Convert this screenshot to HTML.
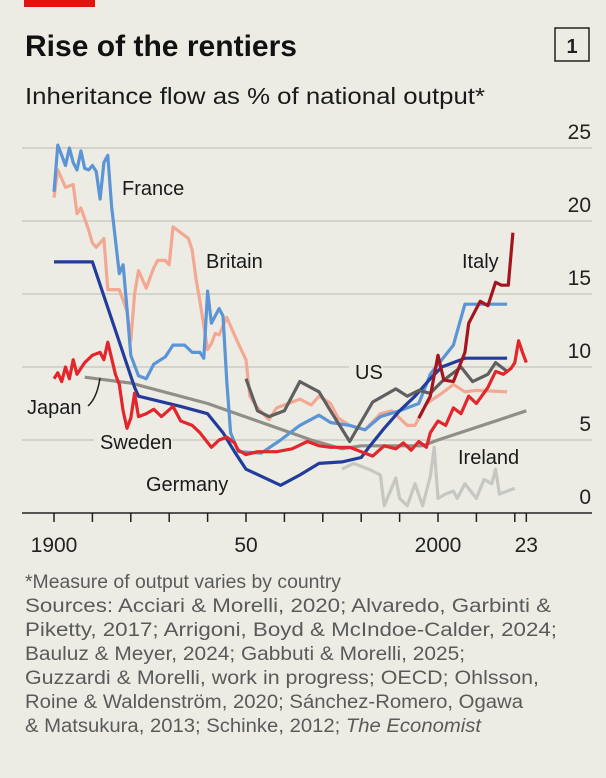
<!DOCTYPE html>
<html><head><meta charset="utf-8"><style>
html,body{margin:0;padding:0;background:#edece4;}
svg{display:block;font-family:"Liberation Sans",sans-serif;}
</style></head><body>
<svg id="chart" width="606" height="778" viewBox="0 0 606 778">
<rect width="606" height="778" fill="#edece4"/>
<rect x="24" y="0" width="71" height="7" fill="#e3120b"/>
<text x="25" y="56" font-size="30" font-weight="bold" fill="#111" textLength="272" lengthAdjust="spacingAndGlyphs">Rise of the rentiers</text>
<rect x="555" y="28" width="34" height="33" fill="none" stroke="#222" stroke-width="1.5"/>
<text x="572" y="53" font-size="20" font-weight="bold" text-anchor="middle" fill="#222">1</text>
<text x="25" y="104" font-size="23" fill="#1a1a1a" textLength="460" lengthAdjust="spacingAndGlyphs">Inheritance flow as % of national output*</text>
<g id="grid"></g>
<g id="series"></g>
<g id="labels"></g>
<g font-size="19" fill="#5a5a5a">
<text x="25" y="588" textLength="316" lengthAdjust="spacingAndGlyphs">*Measure of output varies by country</text>
<text x="25" y="612" textLength="526" lengthAdjust="spacingAndGlyphs">Sources: Acciari &amp; Morelli, 2020; Alvaredo, Garbinti &amp;</text>
<text x="25" y="636" textLength="532" lengthAdjust="spacingAndGlyphs">Piketty, 2017; Arrigoni, Boyd &amp; McIndoe-Calder, 2024;</text>
<text x="25" y="660" textLength="440" lengthAdjust="spacingAndGlyphs">Bauluz &amp; Meyer, 2024; Gabbuti &amp; Morelli, 2025;</text>
<text x="25" y="684" textLength="514" lengthAdjust="spacingAndGlyphs">Guzzardi &amp; Morelli, work in progress; OECD; Ohlsson,</text>
<text x="25" y="708" textLength="498" lengthAdjust="spacingAndGlyphs">Roine &amp; Waldenström, 2020; Sánchez-Romero, Ogawa</text>
<text x="25" y="732" textLength="456" lengthAdjust="spacingAndGlyphs">&amp; Matsukura, 2013; Schinke, 2012; <tspan font-style="italic">The Economist</tspan></text>
</g>
</svg>
<script>
const yTicks=[0,5,10,15,20,25];
const xTickYears=[1900,1910,1920,1930,1940,1950,1960,1970,1980,1990,2000,2010,2020,2023];
const xLabelYears=[1900,1950,2000,2023];
const xLabelText=["1900","50","2000","23"];
const franceYears=[1900,1901,1902,1903,1904,1905,1906,1907,1908,1909,1910,1911,1912,1913,1914,1915,1917,1918,1919,1920,1922,1924,1926,1929,1931,1934,1936,1938,1939,1940,1941,1943,1944,1945,1946,1948,1954,1959,1964,1969,1972,1977,1981,1985,1990,1995,1998,2001,2004,2007,2018];
const franceVals=[22,25.2,24.5,23.8,25,24,23.5,24.8,23.6,23.5,23.8,23.4,21.5,24,24.5,21,16.4,17,14,10.8,9.4,9.2,10.2,10.7,11.5,11.5,11,11,10.6,15.2,13,14,13.5,9,5.5,4.2,4.1,5,6,6.7,6.2,6,5.7,6.6,7,7.5,9.5,10.5,11.5,14.3,14.3];
const britainYears=[1900,1901,1903,1905,1906,1907,1909,1910,1911,1913,1914,1917,1919,1920,1921,1922,1924,1926,1927,1929,1930,1931,1933,1935,1936,1937,1938,1940,1941,1942,1943,1945,1946,1948,1950,1951,1953,1956,1958,1962,1964,1967,1969,1972,1974,1977,1981,1985,1988,1992,1994,1997,2001,2004,2007,2010,2018];
const britainVals=[21.6,23.5,22.3,22.5,20.5,20.9,19.4,18.5,18.2,18.8,15.3,15.3,13.8,11.8,15,16.6,15.4,16.8,17.3,17.3,17,19.6,19.2,18.8,18,16,14.5,11.2,11.6,12.3,12.2,13.4,12.8,11.6,10.5,8,7.2,6.4,7.2,7.6,7.8,7.4,8,7.5,6.5,6,5.7,6.8,7,6,6,7.5,8.2,8.8,8.3,8.4,8.3];
const germanyYears=[1900,1910,1921,1922,1933,1940,1944,1947,1950,1959,1964,1969,1975,1980,1982,1986,1990,1994,1998,2001,2007,2018];
const germanyVals=[17.2,17.2,8.6,8,7.3,6.8,5.5,4.2,3,1.9,2.6,3.4,3.5,3.8,4.5,5.8,7,8,9.2,10,10.6,10.6];
const swedenYears=[1900,1901,1902,1903,1904,1905,1906,1908,1910,1912,1913,1914,1916,1917,1918,1919,1920,1921,1922,1924,1926,1928,1931,1933,1936,1938,1941,1943,1945,1947,1948,1950,1953,1958,1962,1966,1969,1972,1977,1980,1983,1986,1989,1991,1993,1995,1997,1998,2000,2002,2004,2006,2008,2010,2013,2015,2017,2019,2020,2021,2022,2023];
const swedenVals=[9.2,9.6,9.0,10,9.2,10.5,9.5,10.3,10.8,11,10.5,11.7,9.5,8.8,7,5.8,6.5,8.2,6.6,6.8,7.1,6.6,7.3,6.3,6,5.5,4.5,5,5.2,4.8,4.3,4,4.2,4.2,4.4,4.9,4.6,4.5,4.5,4.2,3.9,4.6,4.4,4.8,4.3,4.9,4.5,5.5,6.3,6,7.2,6.8,8,7.5,8.6,9.7,9.5,9.9,10.3,11.8,11,10.3];
const italyYears=[1995,1998,2000,2001.5,2004,2007,2008,2011,2013,2015,2016.5,2018.3,2019.5];
const italyVals=[6.5,8,10.8,9.1,9,11,13,14.5,14.2,15.8,15.6,15.6,19.2];
const usYears=[1950,1953,1956,1960,1964,1969,1972,1977,1983,1989,1992,1995,1998,2001,2006,2009,2013,2015,2018];
const usVals=[9.2,7,6.6,7,9,8.3,7,4.9,7.6,8.5,8,8.4,8.2,9,10,9,9.5,10.3,9.7];
const japanYears=[1908,1920,1940,1967,1975,1980,1996,2000,2023];
const japanVals=[9.3,8.9,7.5,5,4.4,4.6,4.6,5,7];
const irelandYears=[1975,1978,1982,1985,1986,1989,1990,1992,1994,1996,1998,1999,2000,2002,2004,2005,2007,2010,2012,2014,2015,2016,2018,2020];
const irelandVals=[3,3.4,3,2.6,0.5,2.4,1,0.5,2,0.5,2.5,4.5,1,1.3,1.5,1,2,1,2.3,2,3,1.3,1.5,1.7];

const NS="http://www.w3.org/2000/svg";
const xs=yr=>54+3.84*(yr-1900);
const ys=v=>513-14.6*v;
const grid=document.getElementById('grid');
yTicks.forEach(t=>{
  if(t>0){const l=document.createElementNS(NS,'line');
  l.setAttribute('x1',22);l.setAttribute('x2',592);l.setAttribute('y1',ys(t));l.setAttribute('y2',ys(t));
  l.setAttribute('stroke','#cdcbc1');l.setAttribute('stroke-width','1.5');
  
  
  grid.appendChild(l);}
  const tx=document.createElementNS(NS,'text');
  tx.setAttribute('x',591);tx.setAttribute('y',ys(t)-9);tx.setAttribute('text-anchor','end');
  tx.setAttribute('font-size','21');tx.setAttribute('fill','#222');tx.textContent=t;
  
  
  grid.appendChild(tx);
});
const ax=document.createElementNS(NS,'line');
ax.setAttribute('x1',22);ax.setAttribute('x2',592);ax.setAttribute('y1',513);ax.setAttribute('y2',513);
ax.setAttribute('stroke','#222');ax.setAttribute('stroke-width','1.5');


grid.appendChild(ax);
xTickYears.forEach(y=>{
  const l=document.createElementNS(NS,'line');
  l.setAttribute('x1',xs(y));l.setAttribute('x2',xs(y));l.setAttribute('y1',513);l.setAttribute('y2',522);
  l.setAttribute('stroke','#222');l.setAttribute('stroke-width','1.5');
  
  
  grid.appendChild(l);
});
xLabelYears.forEach((y,i)=>{
  const tx=document.createElementNS(NS,'text');
  tx.setAttribute('x',xs(y));tx.setAttribute('y',552);tx.setAttribute('text-anchor','middle');
  tx.setAttribute('font-size','21');tx.setAttribute('fill','#222');tx.textContent=xLabelText[i];
  
  
  grid.appendChild(tx);
});
const ser=document.getElementById('series');
function draw(name,years,vals,color){
  const p=document.createElementNS(NS,'path');
  p.setAttribute('d',years.map((y,i)=>(i?'L':'M')+xs(y).toFixed(1)+','+ys(vals[i]).toFixed(1)).join(''));
  p.setAttribute('fill','none');p.setAttribute('stroke',color);p.setAttribute('stroke-width','3.2');
  p.setAttribute('stroke-linejoin','round');
  
  
  ser.appendChild(p);
}
draw('ireland',irelandYears,irelandVals,'#c6c6c3');
draw('japan',japanYears,japanVals,'#8f8f88');
draw('britain',britainYears,britainVals,'#f3a893');
draw('france',franceYears,franceVals,'#5b95d6');
draw('germany',germanyYears,germanyVals,'#233c9b');
draw('us',usYears,usVals,'#5f5f5f');
draw('sweden',swedenYears,swedenVals,'#e3262b');
draw('italy',italyYears,italyVals,'#a3161f');
const lab=document.getElementById('labels');
[["France",122,195,false],["Britain",206,268,false],["Italy",462,268,false],["US",355,379,true],["Japan",27,414,true],["Sweden",100,449,true],["Germany",146,491,false],["Ireland",458,464,false]].forEach(d=>{
  if(d[3]){const r=document.createElementNS(NS,'rect');
    r.setAttribute('x',d[1]-6);r.setAttribute('y',d[2]-18);r.setAttribute('width',d[0].length*11+12);r.setAttribute('height',22);
    r.setAttribute('fill','#edece4');
    
    
    lab.appendChild(r);}
  const t=document.createElementNS(NS,'text');
  t.setAttribute('x',d[1]);t.setAttribute('y',d[2]);t.setAttribute('font-size','20');t.setAttribute('fill','#1a1a1a');
  t.textContent=d[0];
  
  
  lab.appendChild(t);
});
const lead=document.createElementNS(NS,'path');
lead.setAttribute('d','M88,406 Q97,398 100,378');lead.setAttribute('fill','none');lead.setAttribute('stroke','#222');lead.setAttribute('stroke-width','1.5');


lab.appendChild(lead);
</script>
</body></html>
